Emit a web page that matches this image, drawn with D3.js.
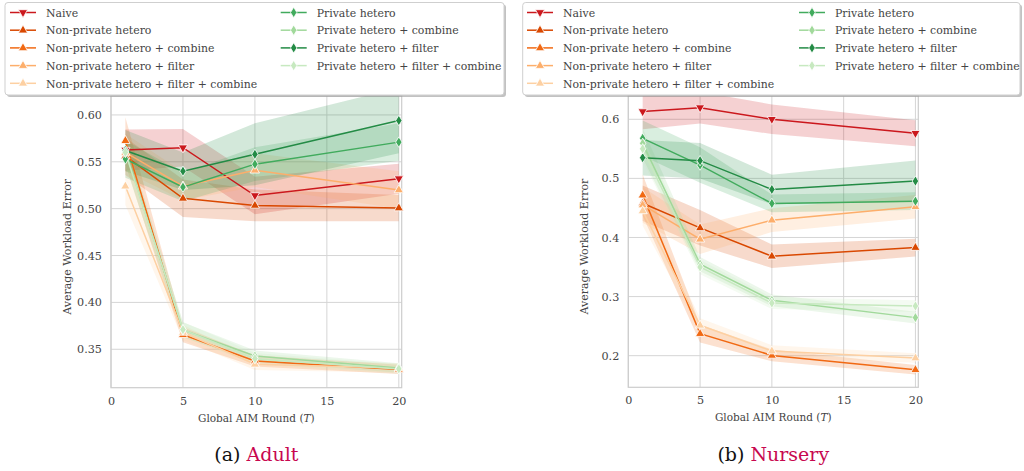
<!DOCTYPE html>
<html>
<head>
<meta charset="utf-8">
<script src="https://cdn.jsdelivr.net/npm/d3@7"></script>
<style>
  html, body { margin: 0; padding: 0; background: #fff; }
  svg { display: block; }
</style>
</head>
<body>
<svg id="chart" width="1024" height="471" font-family="'DejaVu Serif'"></svg>
<script>
// ---------------- DATA ----------------
const rounds = [1, 5, 10, 20];
const xTicks = [0, 5, 10, 15, 20];
const adultYTicks = [0.35, 0.40, 0.45, 0.50, 0.55, 0.60];
const nurseryYTicks = [0.2, 0.3, 0.4, 0.5, 0.6];

const seriesNames = [
  "Naive", "Non-private hetero", "Non-private hetero + combine",
  "Non-private hetero + filter", "Non-private hetero + filter + combine",
  "Private hetero", "Private hetero + combine", "Private hetero + filter",
  "Private hetero + filter + combine"
];
const seriesColors = ["#cb181d", "#d94801", "#f16913", "#fdae6b", "#fdd0a2",
                      "#41ab5d", "#a1d99b", "#238b45", "#c7e9c0"];
const seriesMarkers = ["down", "up", "up", "up", "up", "diamond", "diamond", "diamond", "diamond"];

// Adult: means and CI half-widths
const adultNaive   = [0.5625, 0.565, 0.514, 0.532];
const adultNaiveCI = [0.022, 0.020, 0.020, 0.016];
const adultNP      = [0.556, 0.511, 0.5035, 0.5007];
const adultNPCI    = [0.020, 0.020, 0.017, 0.014];
const adultNPC     = [0.5725, 0.3655, 0.3375, 0.3285];
const adultNPCCI   = [0.025, 0.008, 0.006, 0.005];
const adultNPF     = [0.560, 0.524, 0.541, 0.520];
const adultNPFCI   = [0.020, 0.015, 0.018, 0.020];
const adultNPFC    = [0.524, 0.368, 0.334, 0.330];
const adultNPFCCI  = [0.020, 0.008, 0.006, 0.005];
const adultPH      = [0.553, 0.523, 0.5475, 0.571];
const adultPHCI    = [0.020, 0.015, 0.018, 0.020];
const adultPHC     = [0.5614, 0.3707, 0.3428, 0.330];
const adultPHCCI   = [0.015, 0.008, 0.006, 0.005];
const adultPHF     = [0.562, 0.540, 0.558, 0.594];
const adultPHFCI   = [0.022, 0.020, 0.033, 0.035];
const adultPHFC    = [0.560, 0.371, 0.340, 0.329];
const adultPHFCCI  = [0.015, 0.008, 0.006, 0.005];

// Nursery: means and CI half-widths
const nurseryNaive   = [0.613, 0.6197, 0.600, 0.5763];
const nurseryNaiveCI = [0.030, 0.027, 0.025, 0.022];
const nurseryNP      = [0.458, 0.4163, 0.3683, 0.383];
const nurseryNPCI    = [0.030, 0.030, 0.020, 0.015];
const nurseryNPC     = [0.4717, 0.2373, 0.2005, 0.1763];
const nurseryNPCCI   = [0.035, 0.015, 0.010, 0.008];
const nurseryNPF     = [0.455, 0.397, 0.4293, 0.452];
const nurseryNPFCI   = [0.030, 0.025, 0.020, 0.020];
const nurseryNPFC    = [0.445, 0.2514, 0.2078, 0.196];
const nurseryNPFCCI  = [0.025, 0.012, 0.010, 0.008];
const nurseryPH      = [0.5678, 0.5225, 0.4576, 0.4615];
const nurseryPHCI    = [0.030, 0.030, 0.015, 0.015];
const nurseryPHC     = [0.5593, 0.355, 0.2937, 0.2644];
const nurseryPHCCI   = [0.025, 0.012, 0.010, 0.010];
const nurseryPHF     = [0.535, 0.530, 0.4813, 0.4954];
const nurseryPHFCI   = [0.030, 0.030, 0.025, 0.035];
const nurseryPHFC    = [0.550, 0.350, 0.289, 0.284];
const nurseryPHFCCI  = [0.020, 0.012, 0.010, 0.010];

const adultMeans = [adultNaive, adultNP, adultNPC, adultNPF, adultNPFC, adultPH, adultPHC, adultPHF, adultPHFC];
const adultCIs   = [adultNaiveCI, adultNPCI, adultNPCCI, adultNPFCI, adultNPFCCI, adultPHCI, adultPHCCI, adultPHFCI, adultPHFCCI];
const nurseryMeans = [nurseryNaive, nurseryNP, nurseryNPC, nurseryNPF, nurseryNPFC, nurseryPH, nurseryPHC, nurseryPHF, nurseryPHFC];
const nurseryCIs   = [nurseryNaiveCI, nurseryNPCI, nurseryNPCCI, nurseryNPFCI, nurseryNPFCCI, nurseryPHCI, nurseryPHCCI, nurseryPHFCI, nurseryPHFCCI];

// ---------------- DRAW ----------------
const SERIF = "DejaVu Serif";
const svg = d3.select("#chart");

function markerPath(type) {
  if (type === "up") return "M0,-5.2L4.6,2.8L-4.6,2.8Z";
  if (type === "down") return "M0,5.2L4.6,-2.8L-4.6,-2.8Z";
  return "M0,-5.2L3.2,0L0,5.2L-3.2,0Z";
}

function panel(opts) {
  const { left, right, top, bottom, yDomain, yTicks, yFmt, means, cis, clipId, caption, captionLetter } = opts;
  const x = d3.scaleLinear().domain([0, 20.2]).range([left, right]);
  const y = d3.scaleLinear().domain(yDomain).range([bottom, top]);
  const g = svg.append("g");

  g.append("defs").append("clipPath").attr("id", clipId)
    .append("rect").attr("x", left).attr("y", top).attr("width", right - left).attr("height", bottom - top);

  // grid
  g.append("g").selectAll("line").data(xTicks).join("line")
    .attr("x1", d => x(d)).attr("x2", d => x(d)).attr("y1", top).attr("y2", bottom)
    .attr("stroke", "#d5d5d5").attr("stroke-width", 1);
  g.append("g").selectAll("line").data(yTicks).join("line")
    .attr("x1", left).attr("x2", right).attr("y1", d => y(d)).attr("y2", d => y(d))
    .attr("stroke", "#d5d5d5").attr("stroke-width", 1);

  // axes via d3 axis (labels only)
  const xa = g.append("g").attr("transform", `translate(0,${bottom})`)
    .call(d3.axisBottom(x).tickValues(xTicks).tickSize(0).tickPadding(9).tickFormat(d3.format("d")));
  const ya = g.append("g").attr("transform", `translate(${left},0)`)
    .call(d3.axisLeft(y).tickValues(yTicks).tickSize(0).tickPadding(9).tickFormat(d3.format(yFmt)));
  [xa, ya].forEach(a => {
    a.attr("font-family", SERIF);
    a.select(".domain").remove();
    a.selectAll("text").attr("font-family", SERIF).attr("font-size", 11.2).attr("fill", "#444");
  });

  // spines
  g.append("rect").attr("x", left).attr("y", top).attr("width", right - left).attr("height", bottom - top)
    .attr("fill", "none").attr("stroke", "#cccccc").attr("stroke-width", 1.2);

  const plot = g.append("g").attr("clip-path", `url(#${clipId})`);
  const area = d3.area().x(d => x(d.x)).y0(d => y(d.lo)).y1(d => y(d.hi));
  const line = d3.line().x(d => x(d.x)).y(d => y(d.y));

  means.forEach((m, i) => {
    const pts = rounds.map((r, j) => ({ x: r, y: m[j], lo: m[j] - cis[i][j], hi: m[j] + cis[i][j] }));
    plot.append("path").datum(pts).attr("d", area)
      .attr("fill", seriesColors[i]).attr("fill-opacity", 0.2).attr("stroke", "none");
  });
  means.forEach((m, i) => {
    const pts = rounds.map((r, j) => ({ x: r, y: m[j] }));
    plot.append("path").datum(pts).attr("d", line)
      .attr("fill", "none").attr("stroke", seriesColors[i]).attr("stroke-width", 1.5);
  });
  means.forEach((m, i) => {
    const pts = rounds.map((r, j) => ({ x: r, y: m[j] }));
    g.append("g").selectAll("path").data(pts).join("path")
      .attr("d", markerPath(seriesMarkers[i]))
      .attr("transform", d => `translate(${x(d.x)},${y(d.y)})`)
      .attr("fill", seriesColors[i]).attr("stroke", "#fff").attr("stroke-width", 0.8);
  });

  // axis labels
  g.append("text").attr("x", (left + right) / 2).attr("y", bottom + 34)
    .attr("text-anchor", "middle").attr("font-size", 10.5).attr("fill", "#444").attr("font-family", SERIF)
    .html('Global AIM Round (<tspan font-style="italic">T</tspan>)');
  g.append("text").attr("transform", `translate(${left - 40},${(top + bottom) / 2 + 5}) rotate(-90)`)
    .attr("text-anchor", "middle").attr("font-size", 11).attr("fill", "#444").attr("font-family", SERIF)
    .text("Average Workload Error");

  // caption
  const cap = g.append("text").attr("x", (left + right) / 2).attr("y", 461)
    .attr("text-anchor", "middle").attr("font-size", 19).attr("fill", "#111").attr("font-family", SERIF);
  cap.append("tspan").text(`(${captionLetter}) `);
  cap.append("tspan").attr("fill", "#c8084f").text(caption);

  // legend
  const L = opts.legend;
  const lg = svg.append("g");
  lg.append("rect").attr("x", L.x + 2).attr("y", L.y + 2).attr("width", L.w).attr("height", L.h)
    .attr("rx", 3).attr("fill", "#9a9a9a").attr("fill-opacity", 0.6);
  lg.append("rect").attr("x", L.x).attr("y", L.y).attr("width", L.w).attr("height", L.h)
    .attr("rx", 3).attr("fill", "#fff").attr("stroke", "#cfcfcf").attr("stroke-width", 1);
  seriesNames.forEach((name, i) => {
    const col = i < 5 ? 0 : 1;
    const row = i < 5 ? i : i - 5;
    const lx = L.x + (col === 0 ? L.c0 : L.c1);
    const ly = L.y + 10 + row * 17.7;
    lg.append("line").attr("x1", lx).attr("x2", lx + 26).attr("y1", ly).attr("y2", ly)
      .attr("stroke", seriesColors[i]).attr("stroke-width", 1.5);
    lg.append("path").attr("d", markerPath(seriesMarkers[i]))
      .attr("transform", `translate(${lx + 13},${ly})`)
      .attr("fill", seriesColors[i]).attr("stroke", "#fff").attr("stroke-width", 0.8);
    lg.append("text").attr("x", lx + 36).attr("y", ly + 4.2).attr("font-family", SERIF)
      .attr("font-size", 10.9).attr("fill", "#444").text(name);
  });
}

panel({
  left: 111, right: 401.7, top: 96, bottom: 387.7,
  yDomain: [0.309, 0.6202], yTicks: adultYTicks, yFmt: ".2f",
  means: adultMeans, cis: adultCIs, clipId: "clipA",
  caption: "Adult", captionLetter: "a",
  legend: { x: 5, y: 2.5, w: 499, h: 92.5, c0: 5, c1: 275.7 }
});
panel({
  left: 628.3, right: 918.3, top: 96, bottom: 387.3,
  yDomain: [0.1465, 0.6394], yTicks: nurseryYTicks, yFmt: ".1f",
  means: nurseryMeans, cis: nurseryCIs, clipId: "clipB",
  caption: "Nursery", captionLetter: "b",
  legend: { x: 522.7, y: 2.5, w: 497.3, h: 92.5, c0: 4.3, c1: 276.3 }
});
</script>
</body>
</html>
